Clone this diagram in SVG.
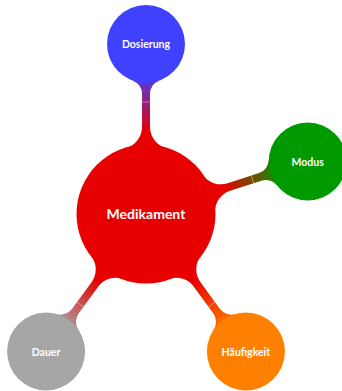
<svg xmlns="http://www.w3.org/2000/svg" width="342" height="391" viewBox="0 0 342 391">
<defs>
<style>
.lbl{font-family:Lato,"Liberation Sans",sans-serif;font-weight:bold;fill:#fff;text-anchor:middle}
.c0{font-size:14px}
.c1{font-size:10.5px}
.seam{stroke:#fff;stroke-opacity:0.55;stroke-width:0.7}
</style>
<linearGradient id="gB" gradientUnits="userSpaceOnUse" x1="82" y1="0" x2="142" y2="0"><stop offset="0" stop-color="#e60000"/><stop offset="1" stop-color="#4040ff"/></linearGradient>
<linearGradient id="gG" gradientUnits="userSpaceOnUse" x1="82" y1="0" x2="142" y2="0"><stop offset="0" stop-color="#e60000"/><stop offset="1" stop-color="#009900"/></linearGradient>
<linearGradient id="gO" gradientUnits="userSpaceOnUse" x1="82" y1="0" x2="142" y2="0"><stop offset="0" stop-color="#e60000"/><stop offset="1" stop-color="#ff8000"/></linearGradient>
<linearGradient id="gA" gradientUnits="userSpaceOnUse" x1="82" y1="0" x2="142" y2="0"><stop offset="0" stop-color="#e60000"/><stop offset="1" stop-color="#a6a6a6"/></linearGradient>
<path id="bar" d="M40,0 L66.1,19.7 A22,22 0 0 1 87.2,4 L120.15,4 A14,14 0 0 1 133.3,13.2 L150,0 L133.3,-13.2 A14,14 0 0 1 120.15,-4 L87.2,-4 A22,22 0 0 1 66.1,-19.7 Z"/>
</defs>
<g id="connectors">
<g transform="translate(146,214) rotate(-90)"><use href="#bar" fill="url(#gB)"/><line class="seam" x1="112" y1="-4" x2="112" y2="4"/></g>
<g transform="translate(146,214) rotate(-18)"><use href="#bar" fill="url(#gG)"/><line class="seam" x1="112" y1="-4" x2="112" y2="4"/></g>
<g transform="translate(146,214) rotate(54)"><use href="#bar" fill="url(#gO)"/><line class="seam" x1="112" y1="-4" x2="112" y2="4"/></g>
<g transform="translate(146,214) rotate(126)"><use href="#bar" fill="url(#gA)"/><line class="seam" x1="112" y1="-4" x2="112" y2="4"/></g>
</g>
<g id="medikament"><circle cx="146" cy="214" r="69.5" fill="#e60000"/><text class="lbl c0" x="146" y="219">Medikament</text></g>
<g id="dosierung"><circle cx="146" cy="44" r="39" fill="#4040ff"/><text class="lbl c1" x="146" y="48">Dosierung</text></g>
<g id="modus"><circle cx="307.7" cy="161.5" r="39" fill="#009900"/><text class="lbl c1" x="307.7" y="165.5">Modus</text></g>
<g id="haeufigkeit"><circle cx="245.9" cy="351.5" r="39" fill="#ff8000"/><text class="lbl c1" x="245.9" y="355.5">Häufigkeit</text></g>
<g id="dauer"><circle cx="46.1" cy="351.5" r="39" fill="#a6a6a6"/><text class="lbl c1" x="46.1" y="355.5">Dauer</text></g>
</svg>
